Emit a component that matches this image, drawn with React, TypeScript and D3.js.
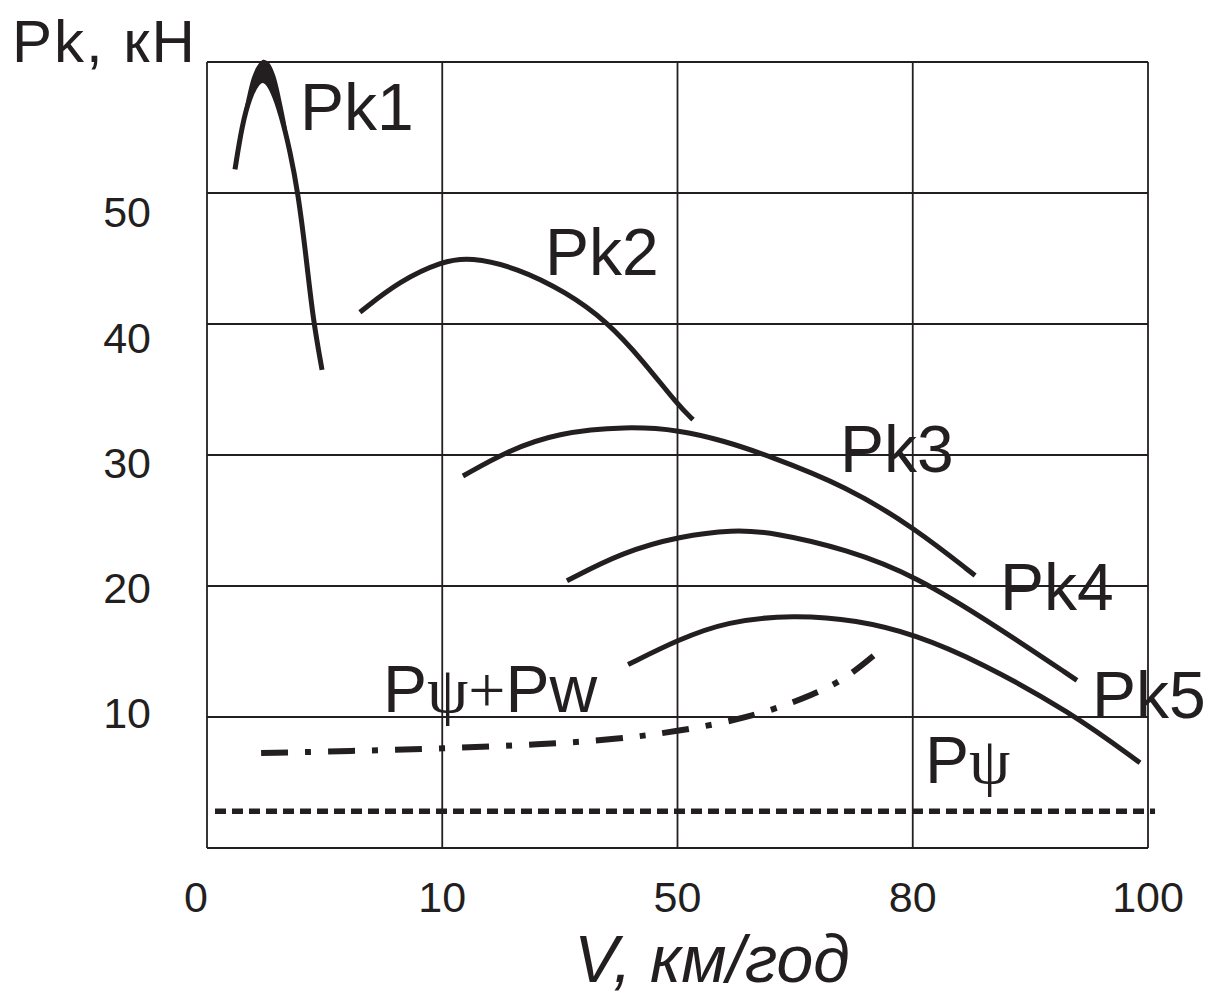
import { useMemo } from "react";
import * as d3 from "d3";

type Pt = [number, number];

// x is in grid cells (the axis labels are not linear), y in kN
const X_TICK_LABELS = ["0", "10", "50", "80", "100"];
const Y_TICKS = [10, 20, 30, 40, 50];

const PK1: Pt[] = [
  [0.119, 51.8], [0.149, 55.2], [0.183, 57.4], [0.215, 58.5], [0.245, 58.7],
  [0.276, 58.0], [0.315, 56.0], [0.353, 53.2], [0.387, 50.0], [0.421, 45.2],
  [0.451, 40.3], [0.489, 36.5],
];
// thick cap at the top of Pk1
const PK1_CAP: Pt[] = [
  [0.16, 56.0], [0.195, 58.8], [0.222, 59.8], [0.24, 60.1], [0.26, 59.9],
  [0.285, 59.0], [0.31, 57.2], [0.34, 54.3],
];
const PK2: Pt[] = [
  [0.65, 40.9], [0.82, 43.3], [1.003, 44.8], [1.118, 45.1], [1.318, 44.3],
  [1.53, 42.4], [1.7, 40.2], [1.853, 37.2], [2.002, 33.8], [2.066, 32.7],
];
const PK3: Pt[] = [
  [1.088, 28.4], [1.275, 30.3], [1.488, 31.7], [1.785, 32.2], [2.011, 31.9],
  [2.193, 31.1], [2.38, 30.0], [2.72, 27.6], [3.01, 24.4], [3.265, 20.8],
];
const PK4: Pt[] = [
  [1.53, 20.4], [1.768, 22.6], [2.011, 23.8], [2.236, 24.3], [2.406, 24.1],
  [2.72, 22.8], [3.01, 20.8], [3.358, 16.9], [3.698, 12.8],
];
const PK5: Pt[] = [
  [1.79, 14.0], [2.002, 15.9], [2.21, 17.3], [2.491, 17.8], [2.763, 17.4],
  [3.01, 16.3], [3.286, 14.2], [3.668, 10.4], [3.966, 6.5],
];
const P_PSI_W: Pt[] = [
  [0.23, 7.25], [0.608, 7.4], [1.003, 7.6], [1.416, 7.9], [1.743, 8.3],
  [2.002, 8.9], [2.325, 10.0], [2.593, 11.8], [2.72, 13.0], [2.848, 14.9],
];
const P_PSI: Pt[] = [
  [0.034, 2.8], [4.03, 2.8],
];

const W = 1209;
const H = 999;
const INK = "#231f20";
const FONT = "'Liberation Sans', Arial, sans-serif";
const SERIF = "'Liberation Serif', 'Times New Roman', serif";

export default function App() {
  const x = useMemo(() => d3.scaleLinear().domain([0, 4]).range([207, 1148]), []);
  const y = useMemo(() => d3.scaleLinear().domain([0, 60]).range([848, 62]), []);
  // tick labels sit on their own, slightly tighter spacing than the grid
  const yLab = d3.scaleLinear().domain([10, 50]).range([y(10) - 4, y(50) + 19]);

  const line = d3
    .line<Pt>()
    .x((d) => x(d[0]))
    .y((d) => y(d[1]))
    .curve(d3.curveBasis);
  const straight = d3
    .line<Pt>()
    .x((d) => x(d[0]))
    .y((d) => y(d[1]));
  const closed = d3
    .line<Pt>()
    .x((d) => x(d[0]))
    .y((d) => y(d[1]))
    .curve(d3.curveCatmullRomClosed);

  const innerCap = PK1.filter((d) => d[0] > 0.16 && d[0] < 0.34);
  const capPoly = [...PK1_CAP, ...innerCap.slice().reverse()];

  const gridX = d3.range(0, 5);
  const gridY = d3.range(0, 70, 10);

  const curveStyle = {
    fill: "none",
    stroke: INK,
    strokeWidth: 5,
    strokeLinecap: "butt" as const,
  };

  return (
    <svg
      width={W}
      height={H}
      style={{ position: "absolute", left: 0, top: 0, background: "#fff" }}
    >
      <rect width={W} height={H} fill="#fff" />

      {/* grid */}
      <g stroke={INK} strokeWidth={1.8}>
        {gridX.map((g) => (
          <line key={`gx${g}`} x1={x(g)} x2={x(g)} y1={y(0)} y2={y(60)} />
        ))}
        {gridY.map((g) => (
          <line key={`gy${g}`} x1={x(0)} x2={x(4)} y1={y(g)} y2={y(g)} />
        ))}
      </g>

      {/* curves */}
      <path d={straight(P_PSI)!} {...curveStyle} strokeWidth={5.5} strokeDasharray="11 6" />
      <path d={line(P_PSI_W)!} {...curveStyle} strokeWidth={6} strokeDasharray="27 17 6 17" />
      <path d={line(PK5)!} {...curveStyle} />
      <path d={line(PK4)!} {...curveStyle} />
      <path d={line(PK3)!} {...curveStyle} />
      <path d={line(PK2)!} {...curveStyle} />
      <path d={line(PK1)!} {...curveStyle} />
      <path d={closed(capPoly)!} fill={INK} stroke={INK} strokeWidth={2} />

      {/* tick labels */}
      <g fontFamily={FONT} fontSize={43} fill={INK}>
        {Y_TICKS.map((t) => (
          <text key={t} x={151} y={yLab(t)} dy="0.36em" textAnchor="end">
            {t}
          </text>
        ))}
        {X_TICK_LABELS.map((t, i) => (
          <text
            key={t}
            x={x(i)}
            dx={i === 0 ? -11 : 0}
            y={912}
            textAnchor="middle"
          >
            {t}
          </text>
        ))}
      </g>

      {/* curve labels */}
      <g fontFamily={FONT} fontSize={66} fill={INK}>
        <text x={300} y={130}>Pk1</text>
        <text x={545} y={275}>Pk2</text>
        <text x={840} y={472}>Pk3</text>
        <text x={1000} y={610}>Pk4</text>
        <text x={1092} y={718}>Pk5</text>
        <text x={383} y={712}>
          P<tspan fontFamily={SERIF}>ψ+</tspan>Pw
        </text>
        <text x={925} y={783}>
          P<tspan fontFamily={SERIF}>ψ</tspan>
        </text>
      </g>

      {/* axis titles */}
      <text x={12} y={62} fontFamily={FONT} fontSize={60} letterSpacing={2} fill={INK}>
        Pk, кН
      </text>
      <text
        x={712}
        y={982}
        fontFamily={FONT}
        fontSize={66}
        fontStyle="italic"
        textAnchor="middle"
        fill={INK}
      >
        V, км/год
      </text>
    </svg>
  );
}
